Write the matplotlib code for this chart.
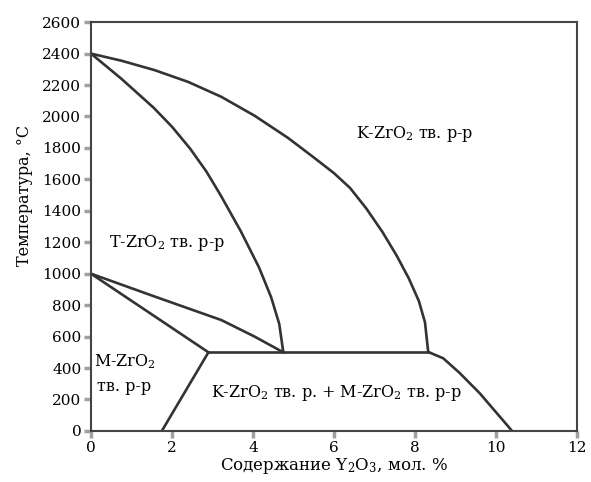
import matplotlib
matplotlib.use('Agg')
import matplotlib.pyplot as plt

plt.rcParams['font.family'] = 'DejaVu Serif'
plt.rcParams['mathtext.fontset'] = 'dejavuserif'

# phase boundaries (x: mol. % Y2O3, y: °C)
upper_x = [0, 0.75, 1.57, 2.4, 3.22, 4.04, 4.86, 5.5, 6.0, 6.4, 6.8, 7.2, 7.55, 7.85, 8.1, 8.25, 8.33]
upper_y = [2400, 2355, 2295, 2220, 2125, 2005, 1865, 1740, 1640, 1545, 1415, 1265, 1115, 970, 825, 690, 500]

inner_x = [0, 0.75, 1.55, 2.0, 2.45, 2.85, 3.2, 3.7, 4.15, 4.45, 4.65, 4.75]
inner_y = [2400, 2240, 2055, 1935, 1795, 1650, 1500, 1270, 1040, 850, 680, 500]

eut_upper_x = [0, 1.57, 3.22, 4.04, 4.75]
eut_upper_y = [1000, 855, 705, 600, 500]

eut_lower_x = [0, 2.9]
eut_lower_y = [1000, 500]

iso_x = [2.9, 8.35]
iso_y = [500, 500]

m_bound_x = [2.9, 1.75]
m_bound_y = [500, 0]

right_x = [8.35, 8.7, 9.1, 9.6, 10.4]
right_y = [500, 462, 370, 240, 0]

x_ticks = [0, 2, 4, 6, 8, 10, 12]
y_ticks = list(range(0, 2601, 200))

line_col = '#333333'
lw = 1.9

fig = plt.figure(figsize=(5.91, 4.82), dpi=100)
ax = fig.add_axes([0.154, 0.106, 0.822, 0.848])

for xs, ys in [(upper_x, upper_y), (inner_x, inner_y), (eut_upper_x, eut_upper_y),
               (eut_lower_x, eut_lower_y), (iso_x, iso_y), (m_bound_x, m_bound_y),
               (right_x, right_y)]:
    ax.plot(xs, ys, color=line_col, lw=lw, solid_capstyle='round', solid_joinstyle='round')

ax.set_xlim(0, 12)
ax.set_ylim(0, 2600)
ax.set_xticks(x_ticks)
ax.set_yticks(y_ticks)
ax.tick_params(direction='out', length=5, width=2.5, color='#a0a0a0', labelsize=11,
               pad=2)
for sp in ax.spines.values():
    sp.set_color('#444444')
    sp.set_linewidth(1.5)

ax.set_xlabel('Содержание Y$_2$O$_3$, мол. %', fontsize=12, labelpad=1)
ax.set_ylabel('Температура, °C', fontsize=11.5)
ax.yaxis.set_label_coords(-0.119, 0.577)

fs = 11.5
ax.text(8.0, 1890, 'K-ZrO$_2$ тв. р-р', fontsize=fs, ha='center', va='center')
ax.text(0.45, 1195, 'T-ZrO$_2$ тв. р-р', fontsize=fs, ha='left', va='center')
ax.text(0.08, 440, 'M-ZrO$_2$', fontsize=fs, ha='left', va='center')
ax.text(0.15, 285, 'тв. р-р', fontsize=fs, ha='left', va='center')
ax.text(6.07, 240, 'K-ZrO$_2$ тв. р. + M-ZrO$_2$ тв. р-р', fontsize=fs,
        ha='center', va='center')

fig.savefig('out.png', dpi=100)
